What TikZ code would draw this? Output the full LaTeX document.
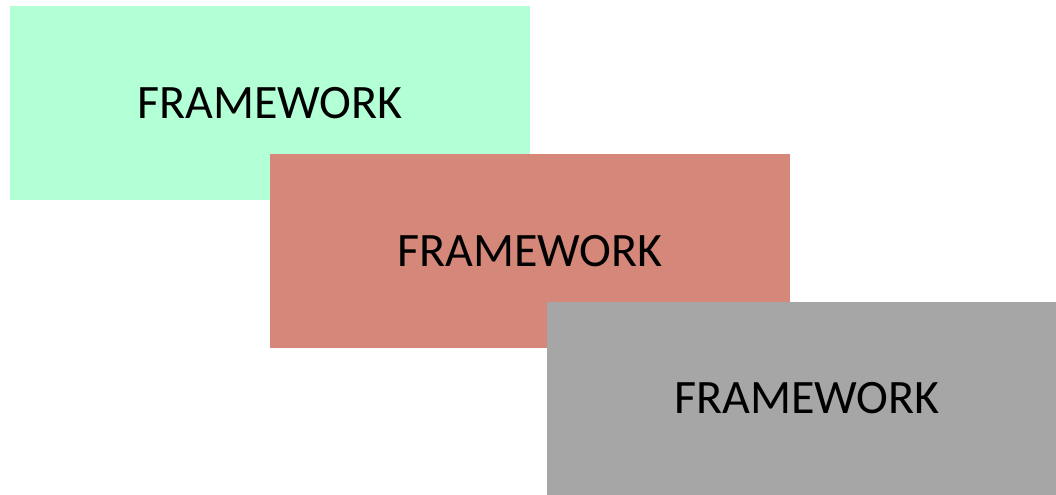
\documentclass[tikz,border=0pt]{standalone}
\usepackage{fontspec}
\setmainfont{Carlito}
\usepackage{tikz}
\usetikzlibrary{positioning}
\definecolor{mintgreen}{HTML}{B3FFD6}
\definecolor{salmonred}{HTML}{D5877A}
\definecolor{midgray}{HTML}{A6A6A6}

\begin{document}
\begin{tikzpicture}[
    x=0.75pt, y=-0.75pt,
    framebox/.style={
        minimum width=390pt,
        minimum height=145pt,
        inner sep=0pt,
        align=center,
        font=\fontsize{36}{43}\selectfont
    }
]
\clip (0,0) rectangle (1056,494);

% Framework boxes
\node[framebox, fill=mintgreen] (fw1) at (270, 103) {FRAMEWORK};
\node[framebox, fill=salmonred] (fw2) at (530, 251) {FRAMEWORK};
\node[framebox, fill=midgray] (fw3) at (807, 398.5) {FRAMEWORK};

\end{tikzpicture}
\end{document}
